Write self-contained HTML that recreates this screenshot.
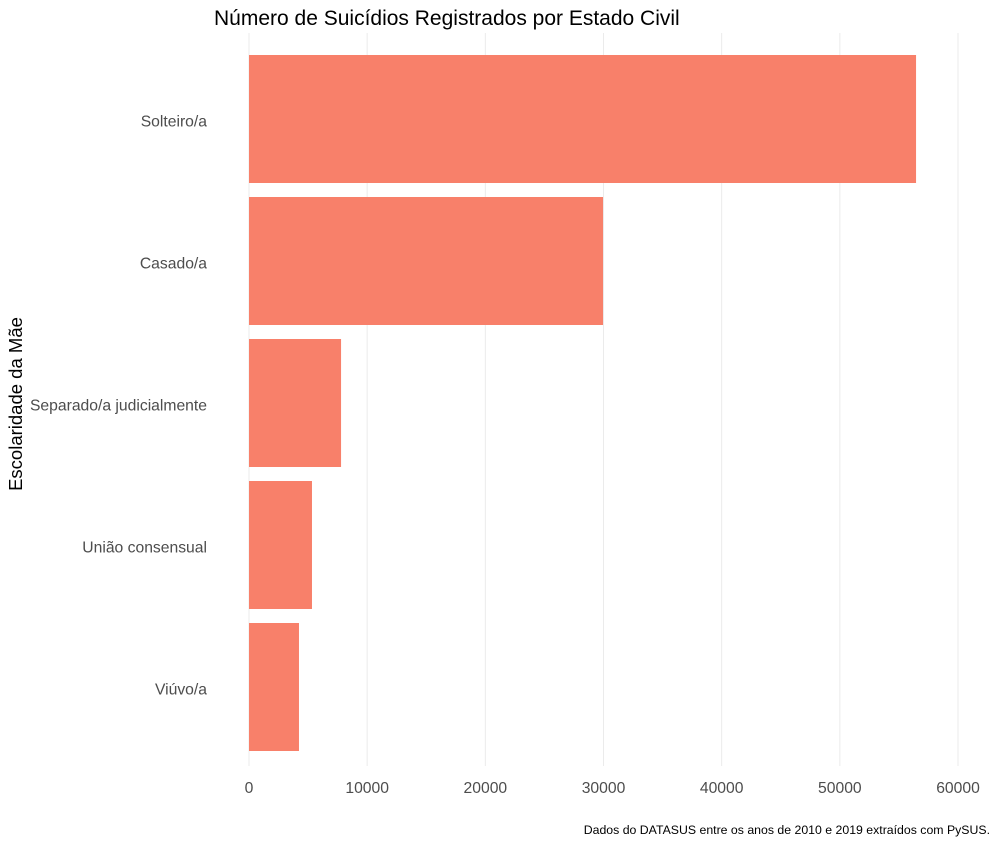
<!DOCTYPE html>
<html><head><meta charset="utf-8"><style>
body{margin:0;background:#fff;}
svg{font-family:"Liberation Sans",Arial,sans-serif;}
</style></head><body>
<svg id="chart" width="1000" height="844">
<text x="214" y="25" font-size="21" fill="#000">Número de Suicídios Registrados por Estado Civil</text>
<text transform="translate(22,404) rotate(-90)" text-anchor="middle" font-size="18.5" fill="#000">Escolaridade da Mãe</text>
<text x="990" y="834" text-anchor="end" font-size="12.3" fill="#000">Dados do DATASUS entre os anos de 2010 e 2019 extraídos com PySUS.</text>
<g id="grid"></g><g id="bars"></g><g id="ylabels"></g><g id="xlabels"></g>
</svg>
<script>
const categories=["Solteiro/a","Casado/a","Separado/a judicialmente","União consensual","Viúvo/a"];
const values=[56450,29960,7790,5330,4230];
const xTicks=[0,10000,20000,30000,40000,50000,60000];
const ns="http://www.w3.org/2000/svg";
const x=v=>249+v*(958-249)/60000;
const y=i=>55+i*142;
const bandH=128;
function mk(t,a,p){const e=document.createElementNS(ns,t);for(const k in a)e.setAttribute(k,a[k]);p.appendChild(e);return e;}
const g=document.getElementById('grid'),b=document.getElementById('bars'),yl=document.getElementById('ylabels'),xl=document.getElementById('xlabels');
for(let i=0;i<xTicks.length;i++){
 const v=xTicks[i];
 const l=mk('line',{x1:x(v),x2:x(v),y1:33,y2:766,stroke:'#ebebeb','stroke-width':1},g);
 
 
 const t=mk('text',{x:x(v),y:793,'text-anchor':'middle','font-size':15.7,fill:'#4d4d4d'},xl);
 t.textContent=v;
 
 
}
for(let i=0;i<categories.length;i++){
 const r=mk('rect',{x:x(0),y:y(i),width:x(values[i])-x(0),height:bandH,fill:'#F8806A'},b);
 
 
 const t=mk('text',{x:207,y:y(i)+bandH/2+7.5,'text-anchor':'end','font-size':15.7,fill:'#4d4d4d'},yl);
 t.textContent=categories[i];
 
 
}
</script>
</body></html>
